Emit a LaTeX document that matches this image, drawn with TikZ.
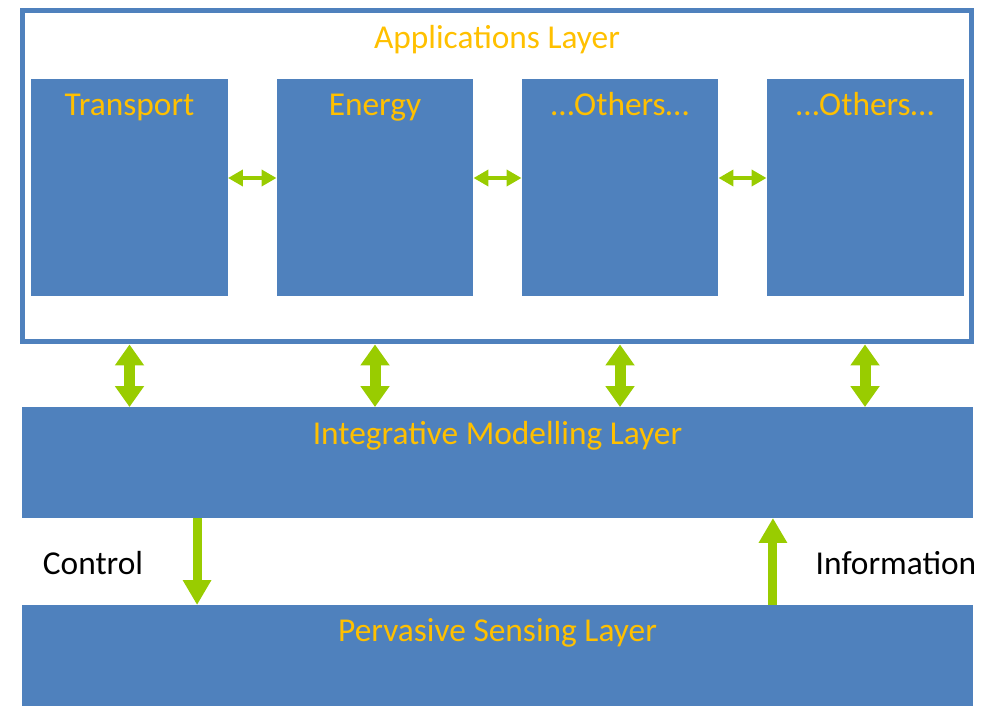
\documentclass[tikz,border=0pt]{standalone}
\usepackage{fontspec}
\setmainfont{Carlito}
\usepackage{tikz}
\usetikzlibrary{arrows.meta, positioning}
\definecolor{layblue}{HTML}{4F81BD}
\definecolor{laytext}{HTML}{FFC000}
\definecolor{linkgreen}{HTML}{99CC00}
\tikzset{
  appbox/.style  ={draw=layblue, line width=0.1cm, minimum width=19cm,
                   minimum height=6.64cm, inner sep=0pt},
  appmod/.style  ={fill=layblue, minimum width=3.94cm, minimum height=4.34cm,
                   inner sep=0pt, outer sep=0pt},
  layerbox/.style={fill=layblue, minimum width=19.02cm, inner sep=0pt,
                   outer sep=0pt},
  ttl/.style     ={font=\fontsize{19}{22}\selectfont, text=laytext,
                   anchor=base, inner sep=0pt},
  sidelbl/.style ={font=\fontsize{19}{22}\selectfont, text=black,
                   anchor=base, inner sep=0pt},
  dblh/.style    ={{Triangle[length=0.3cm, width=0.32cm]}-{Triangle[length=0.3cm, width=0.32cm]},
                   line width=0.09cm, linkgreen},
  dblv/.style    ={{Triangle[length=0.42cm, width=0.56cm]}-{Triangle[length=0.42cm, width=0.56cm]},
                   line width=0.22cm, linkgreen},
  flow/.style    ={-{Triangle[length=0.5cm, width=0.54cm]}, line width=0.18cm,
                   linkgreen},
}
\begin{document}
\begin{tikzpicture}[x=0.02cm, y=-0.02cm]
  \useasboundingbox (0,0) rectangle (999,706);
  % applications layer
  \node[appbox] (app) at (497,176) {};
  \node[ttl] (apptitle) at (497,49) {Applications Layer};
  \node[appmod, label={[ttl, yshift=-0.72cm]north:Transport}] (trans) at (129.5,187.5) {};
  \node[appmod, label={[ttl, yshift=-0.72cm]north:Energy}] (energy) at (375,187.5) {};
  \node[appmod, label={[ttl, yshift=-0.72cm]north:\dots Others\dots}] (otha) at (620,187.5) {};
  \node[appmod, label={[ttl, yshift=-0.72cm]north:\dots Others\dots}] (othb) at (865,187.5) {};
  \draw[dblh] ([yshift=0.19cm]trans.east) -- ([yshift=0.19cm]energy.west);
  \draw[dblh] ([yshift=0.19cm]energy.east) -- ([yshift=0.19cm]otha.west);
  \draw[dblh] ([yshift=0.19cm]otha.east) -- ([yshift=0.19cm]othb.west);
  % lower layers
  \node[layerbox, minimum height=2.22cm,
        label={[ttl, yshift=-0.74cm]north:Integrative Modelling Layer}] (iml) at (497.5,462.5) {};
  \node[layerbox, minimum height=2.02cm,
        label={[ttl, yshift=-0.72cm]north:Pervasive Sensing Layer}] (psl) at (497.5,655.5) {};
  \foreach \m in {trans, energy, otha, othb}
    \draw[dblv] (\m.south |- app.south) -- (\m.south |- iml.north);
  \draw[flow] ([xshift=3.5cm]iml.south west) -- ([xshift=3.5cm]psl.north west);
  \draw[flow] ([xshift=15.02cm]psl.north west) -- ([xshift=15.02cm]iml.south west);
  \node[sidelbl] (ctl) at (93,574) {Control};
  \node[sidelbl] (info) at (896,574) {Information};
\end{tikzpicture}
\end{document}
